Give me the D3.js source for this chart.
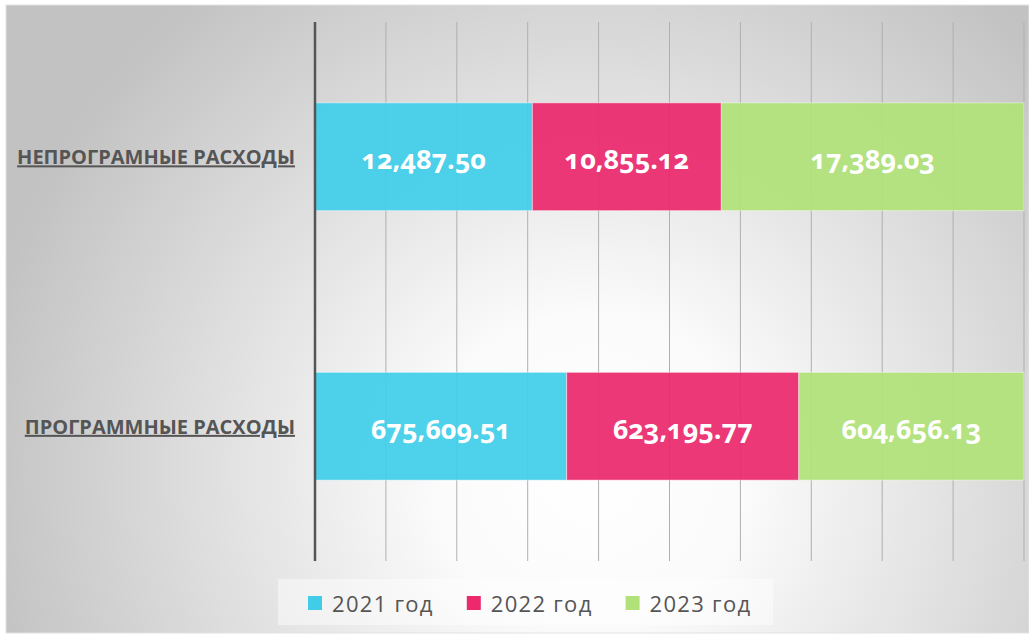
<!DOCTYPE html>
<html>
<head>
<meta charset="utf-8">
<script src="https://cdn.jsdelivr.net/npm/d3@7"></script>
<style>
  html, body { margin: 0; padding: 0; background: #ffffff; }
  svg { display: block; }
</style>
</head>
<body>
<svg id="chart" width="1029" height="634"></svg>
<script>
// ---- data ----
const categories = ["НЕПРОГРАМНЫЕ РАСХОДЫ", "ПРОГРАММНЫЕ РАСХОДЫ"];
const seriesNames = ["2021 год", "2022 год", "2023 год"];
const values2021 = [12487.50, 675609.51];
const values2022 = [10855.12, 623195.77];
const values2023 = [17389.03, 604656.13];
const seriesColors = ["#41cde8", "#ec296d", "#b0e279"];
const gridTicks = [0, 0.1, 0.2, 0.3, 0.4, 0.5, 0.6, 0.7, 0.8, 0.9, 1.0];

const seriesValues = [values2021, values2022, values2023];
const rows = categories.map((c, i) => {
  const r = { category: c };
  seriesNames.forEach((s, j) => r[s] = seriesValues[j][i]);
  return r;
});

const svg = d3.select("#chart");
const W = 1029, H = 634;

// background with radial gradient
const defs = svg.append("defs");
const grad = defs.append("radialGradient")
  .attr("id", "bg").attr("gradientUnits", "userSpaceOnUse")
  .attr("cx", 590).attr("cy", 470).attr("r", 620);
grad.append("stop").attr("offset", "0%").attr("stop-color", "#ffffff");
grad.append("stop").attr("offset", "25%").attr("stop-color", "#fbfbfb");
grad.append("stop").attr("offset", "100%").attr("stop-color", "#c2c2c2");

svg.append("rect").attr("x", 0).attr("y", 0).attr("width", W).attr("height", H).attr("fill", "#ffffff");
svg.append("rect").attr("x", 6).attr("y", 5).attr("width", W - 6).attr("height", H - 6)
  .attr("fill", "url(#bg)").attr("stroke", "#e2e2e2").attr("stroke-width", 1);

const plot = { left: 315, right: 1024, top: 22, bottom: 561 };

const x = d3.scaleLinear().domain([0, 1]).range([plot.left, plot.right]);
const y = d3.scaleBand().domain(categories).range([plot.top, plot.bottom])
  .paddingInner(0.6).paddingOuter(0.3);

// gridlines
svg.append("g").selectAll("line").data(gridTicks.slice(1)).join("line")
  .attr("x1", d => x(d)).attr("x2", d => x(d))
  .attr("y1", plot.top).attr("y2", plot.bottom)
  .attr("stroke", "#afafaf").attr("stroke-width", 1);

// stacked (100%) bars
const stack = d3.stack().keys(seriesNames).offset(d3.stackOffsetExpand);
const layers = stack(rows);
const fmt = d3.format(",.2f");

const gLayers = svg.append("g").selectAll("g").data(layers).join("g")
  .attr("fill", (d, i) => seriesColors[i]);

gLayers.selectAll("rect").data(d => d.map(p => ({ p, key: d.key }))).join("rect")
  .attr("x", d => x(d.p[0]))
  .attr("y", d => y(d.p.data.category))
  .attr("width", d => x(d.p[1]) - x(d.p[0]))
  .attr("height", y.bandwidth())
  .attr("fill-opacity", 0.93)
  .attr("stroke", "#ffffff").attr("stroke-opacity", 0.45).attr("stroke-width", 1);

gLayers.selectAll("text").data(d => d.map(p => ({ p, key: d.key }))).join("text")
  .attr("x", d => (x(d.p[0]) + x(d.p[1])) / 2)
  .attr("y", d => y(d.p.data.category) + y.bandwidth() / 2 + 2)
  .attr("text-anchor", "middle")
  .attr("dominant-baseline", "central")
  .attr("fill", "#ffffff")
  .style("font-family", "'Open Sans', sans-serif")
  .style("font-weight", "700")
  .style("font-size", "27px")
  .style("font-variant-numeric", "oldstyle-nums")
  .text(d => fmt(d.p.data[d.key]));

// category axis line
svg.append("line")
  .attr("x1", plot.left).attr("x2", plot.left)
  .attr("y1", plot.top).attr("y2", plot.bottom)
  .attr("stroke", "#555555").attr("stroke-width", 2.5);

// category labels (underlined)
const yAxis = d3.axisLeft(y).tickSize(0).tickPadding(20);
const gy = svg.append("g").attr("transform", `translate(${plot.left},0)`).call(yAxis);
gy.select(".domain").remove();
gy.selectAll("text")
  .attr("fill", "#555555")
  .attr("dy", "0.38em")
  .style("font-family", "'Open Sans', sans-serif")
  .style("font-weight", "700")
  .style("font-size", "20px")
  .style("text-decoration", "underline");

// legend
svg.append("rect")
  .attr("x", 278).attr("y", 579).attr("width", 495).attr("height", 46)
  .attr("fill", "#ffffff").attr("fill-opacity", 0.45);
const legend = svg.append("g");
let lx = 308;
seriesNames.forEach((s, i) => {
  const g = legend.append("g");
  g.append("rect").attr("x", lx).attr("y", 596).attr("width", 14).attr("height", 14)
    .attr("fill", seriesColors[i]);
  const t = g.append("text").attr("x", lx + 24).attr("y", 612)
    .attr("fill", "#555555")
    .style("font-family", "'Open Sans', sans-serif")
    .style("font-size", "22px")
    .style("letter-spacing", "1.3px")
    .text(s);
  const w = t.node().getComputedTextLength();
  lx = lx + 24 + w + 33;
});
</script>
</body>
</html>
